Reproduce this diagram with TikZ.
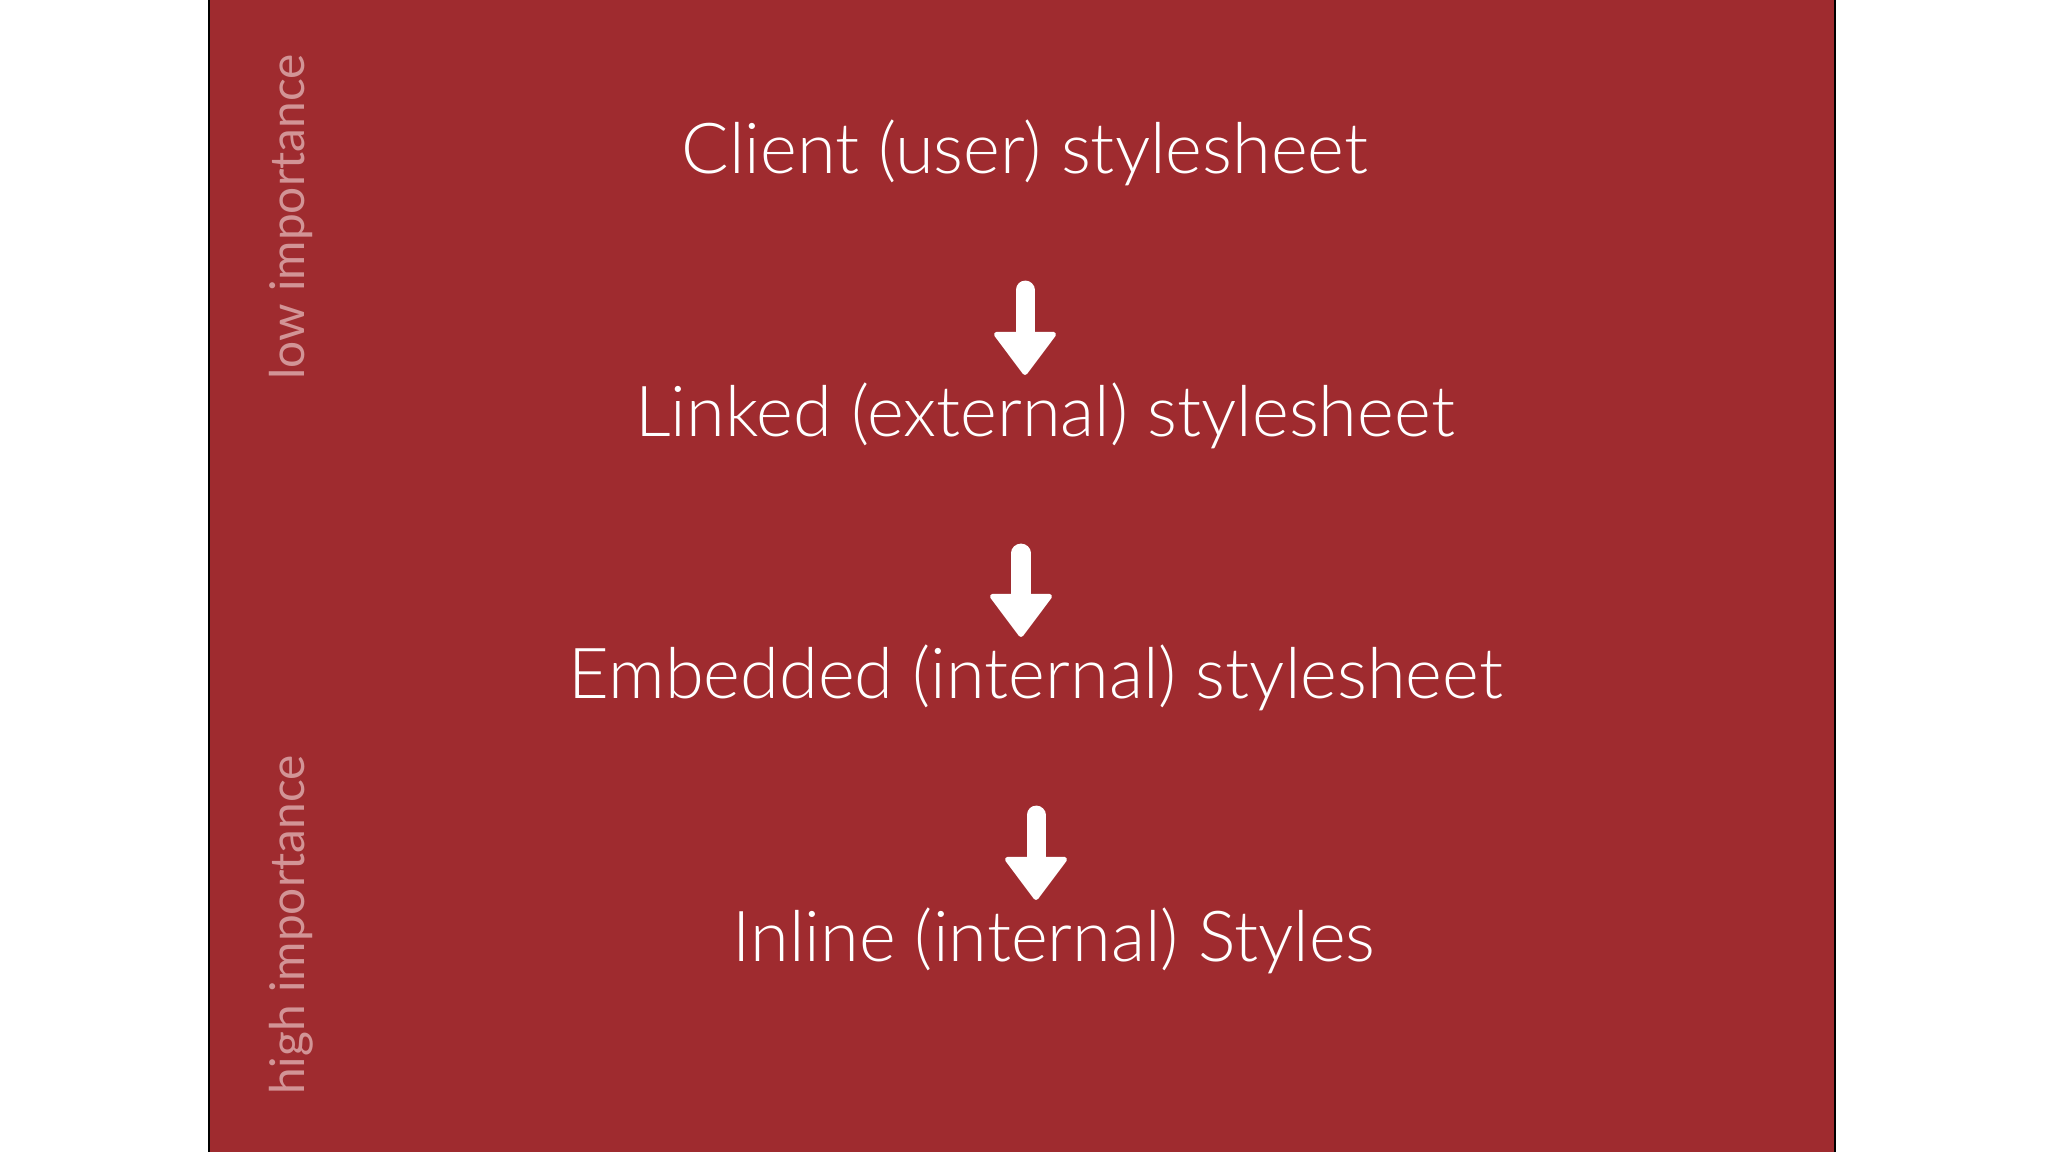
\documentclass[tikz,border=0pt]{standalone}
\usepackage{fontspec}
\setmainfont{Lato}[UprightFont={* Light}]
\newfontfamily\sidefont{Lato}
\usepackage{tikz}
\usetikzlibrary{arrows.meta,positioning}
\definecolor{slidered}{RGB}{159,43,47}
\definecolor{sidepink}{RGB}{210,148,150}
\tikzset{
	level/.style={
		text=white,
		font=\fontsize{20}{24}\selectfont,
		inner sep=0pt
	},
	side/.style={
		text=sidepink,
		font=\sidefont\fontsize{13.6}{17}\selectfont,
		rotate=90,
		inner sep=0pt
	},
	flow/.style={
		draw=white,
		line width=0.19cm,
		line cap=round,
		shorten <=1.37cm,
		shorten >=0.41cm,
		-{Triangle[width=0.66cm,length=0.45cm,line width=1.5pt,round]}
	}
}

\begin{document}
\begin{tikzpicture}[x=0.01cm,y=-0.01cm]
		\useasboundingbox (0,0) rectangle (2048,1152);
		\fill[slidered] (209,0) rectangle (1835,1152);
		\draw[line width=0.7pt,black] (209,0) -- (209,1152);
		\draw[line width=0.7pt,black] (1835,0) -- (1835,1152);
		\node [side] (low) at (291,217) {low importance};
		\node [side] (high) at (291,925) {high importance};
		\node [level] (client) at (1025,153) {Client (user) stylesheet};
		\node [level] (linked) at (1045,416) {Linked (external) stylesheet};
		\node [level] (embedded) at (1036,678) {Embedded (internal) stylesheet};
		\node [level] (inline) at (1054,941) {Inline (internal) Styles};
		\draw [flow] (client.center) -- (client.center |- linked.center);
		\draw [flow] ([xshift=-0.24cm]linked.center) -- ([xshift=-0.24cm]linked.center |- embedded.center);
		\draw [flow] (embedded.center) -- (embedded.center |- inline.center);
\end{tikzpicture}
\end{document}
